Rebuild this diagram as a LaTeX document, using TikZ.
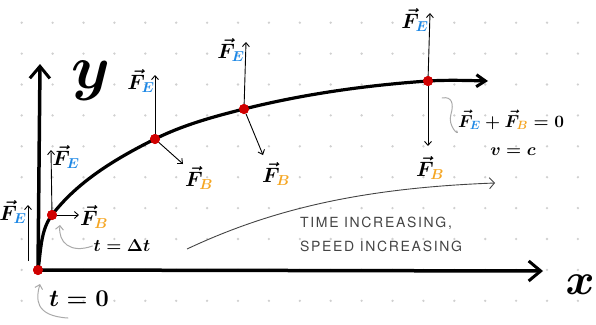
\RequirePackage{fix-cm}
\documentclass[tikz,border=0pt]{standalone}
\usepackage{fontspec}
\usepackage{tikz}
\usetikzlibrary{arrows.meta}
\newfontfamily\notefont[LetterSpace=12]{TeX Gyre Heros}
\definecolor{inkgray}{HTML}{444444}
\definecolor{softgray}{HTML}{AAAAAA}
\definecolor{dotgray}{HTML}{D0D0D0}
\definecolor{eblue}{HTML}{1E88E5}
\definecolor{borange}{HTML}{F5A623}
\definecolor{ptred}{HTML}{D00000}
\newcommand{\forceE}{$\vec{F}_{\textcolor{eblue}{E}}$}
\newcommand{\forceB}{$\vec{F}_{\textcolor{borange}{B}}$}
\tikzset{
  griddot/.style={circle, fill=dotgray, inner sep=0, minimum size=2.6pt},
  pt/.style={circle, fill=ptred, inner sep=0, minimum size=10pt},
  axis/.style={line width=3.5pt, line cap=round, -{Straight Barb[length=12pt, width=20pt, line width=3pt]}},
  path/.style={line width=3.2pt, line cap=round, -{Straight Barb[length=9pt, width=12pt, line width=3pt]}},
  fv/.style={line width=0.9pt, -{Straight Barb[length=4pt, width=7pt]}},
  vlab/.style={font=\huge\boldmath, inner sep=0pt},
  note/.style={draw=softgray, line width=1pt, line cap=round},
  trend/.style={draw=inkgray, line width=0.9pt, -{Straight Barb[length=5pt, width=11pt]}},
  hand/.style={font=\notefont\fontsize{14}{17}\selectfont, text=inkgray, align=left, inner sep=0},
}
\begin{document}
\begin{tikzpicture}[x=1pt, y=-1pt]
\useasboundingbox (0,0) rectangle (596,324);

% dot grid
\foreach \i in {0,...,18}
  \foreach \j in {0,...,9}
    \node[griddot] (g\i-\j) at (21.7+30.9*\i, 22.7+30.9*\j) {};

% axes
\node[pt] (p0) at (38,270) {};
\coordinate (xend) at (543,271);
\coordinate (yend) at (40,64);
\draw[axis] (p0.center) -- (xend);
\draw[axis] (p0.center) -- (yend);
\node[font=\fontsize{44}{44}\selectfont\boldmath, inner sep=0] (xlab) at (580,285) {$x$};
\node[font=\fontsize{62}{62}\selectfont\boldmath, inner sep=0] (ylab) at (91,81) {$y$};

% trajectory
\node[pt] (p1) at (52,215) {};
\node[pt] (p2) at (155,139) {};
\node[pt] (p3) at (244,109) {};
\node[pt] (p4) at (428,81) {};
\coordinate (cend) at (488,81);
\draw[path] (p0.center) .. controls (41,251) and (40.4,230) .. (p1.center)
  .. controls (78,181) and (116.6,158.2) .. (p2.center)
  .. controls (182.7,125.1) and (214,116.5) .. (p3.center)
  .. controls (304,94) and (366,85.3) .. (p4.center)
  .. controls (448,79.8) and (468,80.5) .. (cend);
\foreach \n in {p0,p1,p2,p3,p4} \node[pt] at (\n) {};

% forces
\coordinate (e0a) at (28,261);
\coordinate (e0b) at (28,205);
\draw[fv] (e0a) -- (e0b);
\node[vlab] (le0) at (13,212) {\forceE};

\coordinate (e1) at (51,150);
\coordinate (b1) at (79,215);
\draw[fv] (p1) -- (e1);
\draw[fv] (p1) -- (b1);
\node[vlab] (le1) at (66,157) {\forceE};
\node[vlab] (lb1) at (94,217) {\forceB};

\coordinate (e2) at (155,75);
\coordinate (b2) at (183,164);
\draw[fv] (p2) -- (e2);
\draw[fv] (p2) -- (b2);
\node[vlab] (le2) at (141,81) {\forceE};
\node[vlab] (lb2) at (199,178) {\forceB};

\coordinate (e3) at (246,42);
\coordinate (b3) at (263,155);
\draw[fv] (p3) -- (e3);
\draw[fv] (p3) -- (b3);
\node[vlab] (le3) at (231,50) {\forceE};
\node[vlab] (lb3) at (276,174) {\forceB};

\coordinate (e4) at (430,13);
\coordinate (b4) at (428,146);
\draw[fv] (p4) -- (e4);
\draw[fv] (p4) -- (b4);
\node[vlab] (le4) at (415,20) {\forceE};
\node[vlab] (lb4) at (430,168) {\forceB};

% notes
\node[font=\LARGE\boldmath, inner sep=1pt] (tdt) at (122,246) {$t=\Delta t$};
\node[font=\fontsize{24}{28}\selectfont\boldmath, inner sep=1pt] (t0) at (79,299) {$t=0$};
\node[font=\LARGE\boldmath, inner sep=1pt] (eq) at (511,120) {$\vec{F}_{\textcolor{eblue}{E}}+\vec{F}_{\textcolor{borange}{B}}=0$};
\node[font=\LARGE\boldmath, inner sep=1pt] (vc) at (513,152) {$v=c$};

\coordinate (c1) at (60,225);
\draw[note, -{Straight Barb[length=4pt, width=8pt]}] (tdt.west) .. controls (70,254) and (58,242) .. (c1);
\coordinate (c2s) at (68,318);
\coordinate (c2) at (40,284);
\draw[note, -{Straight Barb[length=4pt, width=8pt]}] (c2s) .. controls (34,316) and (36,298) .. (c2);
\coordinate (c3) at (442,98);
\draw[note] (c3) .. controls (452,96) and (454,104) .. (451,114) .. controls (447,126) and (460,137) .. (eq.south west);

% trend
\coordinate (la0) at (187,249);
\coordinate (la1) at (495,183);
\draw[trend] (la0) .. controls (270,210) and (360,188) .. (la1);
\node[hand] (tinc) at (376,223) {TIME INCREASING,};
\node[hand, anchor=west] (sinc) at (tinc.west |- 0,246) {SPEED INCREASING};
\end{tikzpicture}
\end{document}
